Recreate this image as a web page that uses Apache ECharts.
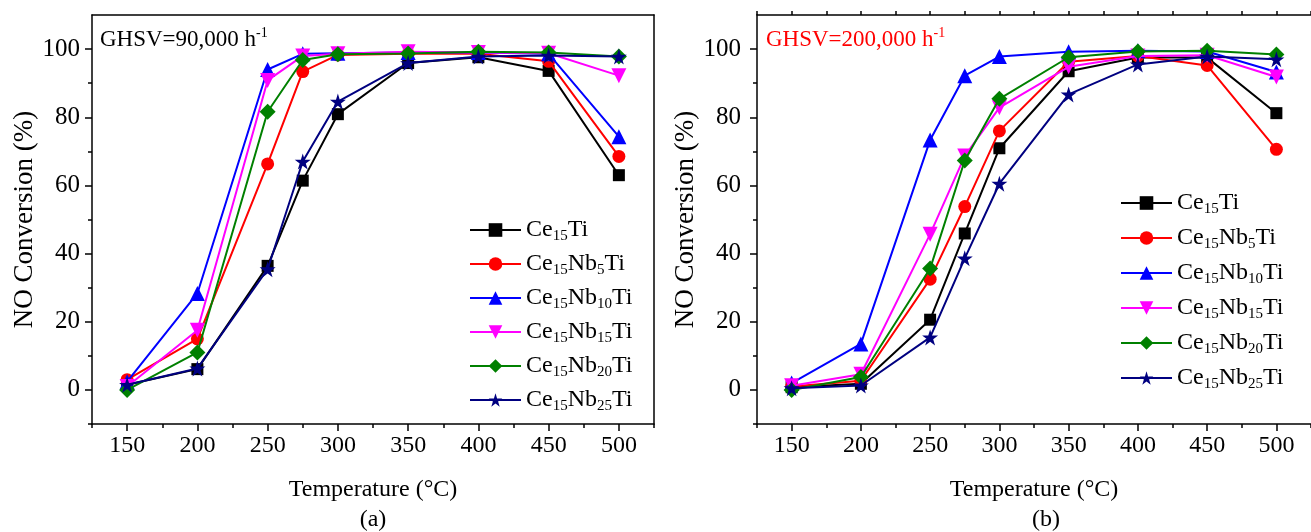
<!DOCTYPE html>
<html>
<head>
<meta charset="utf-8">
<script src="https://cdn.jsdelivr.net/npm/echarts@6/dist/echarts.min.js"></script>
<style>
html,body{margin:0;padding:0;background:#fff;}
#chart{width:1311px;height:532px;}
</style>
</head>
<body>
<div id="chart"></div>
<script>
// ---- data ----
const temperatures = [150, 200, 250, 275, 300, 350, 400, 450, 500];
const seriesNames = ['Ce15Ti', 'Ce15Nb5Ti', 'Ce15Nb10Ti', 'Ce15Nb15Ti', 'Ce15Nb20Ti', 'Ce15Nb25Ti'];
// panel (a) GHSV = 90,000 h-1
const a_Ce15Ti     = [1.5, 6.1, 36.4, 61.4, 80.9, 95.9, 97.6, 93.6, 63.0];
const a_Ce15Nb5Ti  = [3.0, 15.0, 66.3, 93.4, 98.3, 98.6, 98.6, 96.4, 68.5];
const a_Ce15Nb10Ti = [2.4, 28.3, 94.0, 98.6, 98.8, 99.0, 99.0, 98.6, 74.3];
const a_Ce15Nb15Ti = [1.0, 17.5, 90.8, 98.0, 98.6, 99.2, 99.0, 98.8, 92.2];
const a_Ce15Nb20Ti = [0.0, 11.0, 81.6, 96.8, 98.5, 98.7, 99.2, 99.0, 97.8];
const a_Ce15Nb25Ti = [1.5, 6.3, 35.4, 67.0, 84.6, 95.9, 97.8, 98.1, 97.8];
// panel (b) GHSV = 200,000 h-1
const b_Ce15Ti     = [0.8, 1.8, 20.6, 45.9, 70.9, 93.5, 97.5, 97.5, 81.2];
const b_Ce15Nb5Ti  = [1.0, 2.7, 32.5, 53.8, 76.0, 96.3, 98.0, 95.2, 70.6];
const b_Ce15Nb10Ti = [2.0, 13.5, 73.3, 92.2, 97.8, 99.2, 99.5, 99.3, 93.3];
const b_Ce15Nb15Ti = [1.2, 4.6, 45.7, 68.6, 82.8, 94.8, 98.0, 98.2, 91.8];
const b_Ce15Nb20Ti = [0.0, 3.8, 35.6, 67.3, 85.4, 97.6, 99.3, 99.5, 98.4];
const b_Ce15Nb25Ti = [0.5, 1.3, 15.4, 38.6, 60.5, 86.7, 95.5, 97.8, 97.0];
// tick labels
const xTickLabels = [150, 200, 250, 300, 350, 400, 450, 500];
const xMinorTicks = [125, 175, 225, 275, 325, 375, 425, 475, 525];
const yTickLabels = [0, 20, 40, 60, 80, 100];
const yMinorTicks = [-10, 10, 30, 50, 70, 90];

const panelA = [a_Ce15Ti, a_Ce15Nb5Ti, a_Ce15Nb10Ti, a_Ce15Nb15Ti, a_Ce15Nb20Ti, a_Ce15Nb25Ti];
const panelB = [b_Ce15Ti, b_Ce15Nb5Ti, b_Ce15Nb10Ti, b_Ce15Nb15Ti, b_Ce15Nb20Ti, b_Ce15Nb25Ti];

// ---- styles ----
const FONT = 'Liberation Serif, "Times New Roman", serif';
const colors = ['#000000', '#ff0000', '#0000ff', '#ff00ff', '#008000', '#000080'];
const STAR = 'path://M50,0 L61.2,34.5 L97.6,34.5 L68.2,55.9 L79.4,90.5 L50,69.1 L20.6,90.5 L31.8,55.9 L2.4,34.5 L38.8,34.5 Z';
const symbols = ['rect', 'circle', 'triangle', 'triangle', 'diamond', STAR];
const symbolRot = [0, 0, 0, 180, 0, 0];
const symbolSizes = [12, 13, 15, 15, 16, 16];

function zip(xs, ys) { return xs.map((x, i) => [x, ys[i]]); }

function mainX(gridIndex, labelMargin) {
  return {
    type: 'value', gridIndex, position: 'bottom', min: 125, max: 525, interval: 25,
    name: 'Temperature (°C)', nameLocation: 'middle', nameGap: 54,
    nameTextStyle: { fontFamily: FONT, fontSize: 24, color: '#000' },
    axisLine: { show: true, onZero: false, lineStyle: { color: '#000', width: 1.5 } },
    axisTick: { show: true, inside: false, length: 7, customValues: xTickLabels, lineStyle: { color: '#000', width: 1.5 } },
    axisLabel: { show: true, margin: labelMargin, customValues: xTickLabels, fontFamily: FONT, fontSize: 24, color: '#000' },
    splitLine: { show: false }
  };
}
function minorX(gridIndex) {
  return {
    type: 'value', gridIndex, position: 'bottom', min: 125, max: 525, interval: 25,
    axisLine: { show: false, onZero: false },
    axisTick: { show: true, inside: false, length: 4, customValues: xMinorTicks, lineStyle: { color: '#000', width: 1.5 } },
    axisLabel: { show: false }, splitLine: { show: false }
  };
}
function topX(gridIndex, ticks) {
  return {
    type: 'value', gridIndex, position: 'top', min: 125, max: 525, interval: 25,
    axisLine: { show: true, onZero: false, lineStyle: { color: '#000', width: 1.5 } },
    axisTick: ticks ? { show: true, inside: false, length: 4, customValues: xTickLabels.concat(xMinorTicks), lineStyle: { color: '#000', width: 1.5 } } : { show: false },
    axisLabel: { show: false }, splitLine: { show: false }
  };
}
function mainY(gridIndex, labelMargin, nameGap) {
  return {
    type: 'value', gridIndex, position: 'left', min: -10, max: 110, interval: 10,
    name: 'NO Conversion (%)', nameLocation: 'middle', nameGap: nameGap, nameRotate: 90,
    nameTextStyle: { fontFamily: FONT, fontSize: 27, color: '#000' },
    axisLine: { show: true, onZero: false, lineStyle: { color: '#000', width: 1.5 } },
    axisTick: { show: true, inside: false, length: 7, customValues: yTickLabels, lineStyle: { color: '#000', width: 1.5 } },
    axisLabel: { show: true, margin: labelMargin, customValues: yTickLabels, fontFamily: FONT, fontSize: 25, color: '#000' },
    splitLine: { show: false }
  };
}
function minorY(gridIndex) {
  return {
    type: 'value', gridIndex, position: 'left', min: -10, max: 110, interval: 10,
    axisLine: { show: false, onZero: false },
    axisTick: { show: true, inside: false, length: 4, customValues: yMinorTicks, lineStyle: { color: '#000', width: 1.5 } },
    axisLabel: { show: false }, splitLine: { show: false }
  };
}
function rightY(gridIndex) {
  return {
    type: 'value', gridIndex, position: 'right', min: -10, max: 110, interval: 10,
    axisLine: { show: true, onZero: false, lineStyle: { color: '#000', width: 1.5 } },
    axisTick: { show: false }, axisLabel: { show: false }, splitLine: { show: false }
  };
}

function buildSeries(panel, xIdx, yIdx) {
  return panel.map((vals, i) => ({
    name: seriesNames[i], type: 'line', xAxisIndex: xIdx, yAxisIndex: yIdx,
    data: zip(temperatures, vals),
    symbol: symbols[i], symbolRotate: symbolRot[i], symbolSize: symbolSizes[i],
    lineStyle: { color: colors[i], width: 2 },
    itemStyle: { color: colors[i] },
    showAllSymbol: true, animation: false, z: 2 + i
  }));
}

function legendFmt(name) { return name.replace(/(\d+)/g, '{s|$1}'); }
function legend(left, top, gap) {
  return {
    orient: 'vertical', left, top, padding: 0, itemGap: gap, itemWidth: 51, itemHeight: 17,
    data: seriesNames, formatter: legendFmt, selectedMode: false,
    textStyle: {
      fontFamily: FONT, fontSize: 24, color: '#000', lineHeight: 28,
      rich: { s: { fontFamily: FONT, fontSize: 15, lineHeight: 14, verticalAlign: 'bottom', color: '#000' } }
    }
  };
}

const chart = echarts.init(document.getElementById('chart'), null, { renderer: 'canvas' });
chart.setOption({
  backgroundColor: '#fff',
  animation: false,
  grid: [
    { left: 92, right: 657, top: 15, bottom: 108, containLabel: false },
    { left: 757, right: -9, top: 15, bottom: 108, containLabel: false }
  ],
  xAxis: [mainX(0, 10), minorX(0), topX(0, false), mainX(1, 10), minorX(1), topX(1, true)],
  yAxis: [mainY(0, 12, 53), minorY(0), rightY(0), mainY(1, 16, 55), minorY(1)],
  legend: [legend(469, 216, 6), legend(1120, 189, 7)],
  series: buildSeries(panelA, 0, 0).concat(buildSeries(panelB, 3, 3)),
  graphic: [
    { type: 'text', x: 100, y: 26, style: { text: 'GHSV=90,000 h{p|-1}', fontFamily: FONT, fontSize: 23, fill: '#000', lineHeight: 28,
      rich: { p: { fontFamily: FONT, fontSize: 14, lineHeight: 14, verticalAlign: 'top', fill: '#000' } } } },
    { type: 'text', x: 766, y: 26, style: { text: 'GHSV=200,000 h{p|-1}', fontFamily: FONT, fontSize: 23, fill: '#ff0000', lineHeight: 28,
      rich: { p: { fontFamily: FONT, fontSize: 14, lineHeight: 14, verticalAlign: 'top', fill: '#ff0000' } } } },
    { type: 'text', x: 373, y: 520, style: { text: '(a)', fontFamily: FONT, fontSize: 24, fill: '#000', align: 'center', verticalAlign: 'middle' } },
    { type: 'text', x: 1046, y: 520, style: { text: '(b)', fontFamily: FONT, fontSize: 24, fill: '#000', align: 'center', verticalAlign: 'middle' } }
  ]
});
</script>
</body>
</html>
